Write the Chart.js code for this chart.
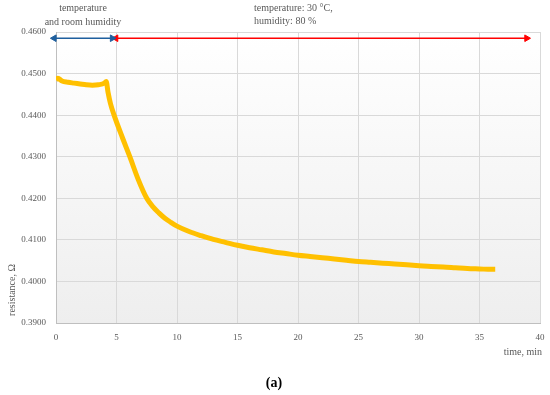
<!DOCTYPE html>
<html>
<head>
<meta charset="utf-8">
<script src="https://cdn.jsdelivr.net/npm/chart.js@4.4.1/dist/chart.umd.min.js"></script>
<style>
  html, body { margin: 0; padding: 0; background: #fff; }
  #wrap { width: 550px; height: 395px; position: relative; }
</style>
</head>
<body>
<div id="wrap"><canvas id="chart" width="550" height="395"></canvas></div>
<script>
// ---- data ----
const timeMin = [0, 0.15, 0.5, 1, 1.5, 2, 2.5, 3, 3.5, 4, 4.15, 4.3, 4.5, 4.8, 5.5, 6.1, 6.8, 7.5, 8, 8.5, 9, 9.5, 10,
  11, 12, 13, 14, 15, 16, 17, 18, 19, 20, 21, 22, 23, 24, 25, 26, 27, 28, 29, 30, 31, 32, 33, 34, 35, 36, 36.3];
const resistance = [0.4484, 0.4489, 0.4482, 0.4479, 0.4477, 0.4475, 0.4473, 0.4472, 0.4473, 0.4477, 0.4481, 0.4455, 0.4428,
  0.4400, 0.4345, 0.4300, 0.4245, 0.4200, 0.4180, 0.4165, 0.4152, 0.4142, 0.4133,
  0.4120, 0.4110, 0.4101, 0.4094, 0.4087, 0.4081, 0.4076, 0.4071, 0.4067, 0.4063, 0.4060, 0.4057, 0.4054, 0.4051,
  0.4048, 0.4046, 0.4044, 0.4042, 0.4040, 0.4038, 0.4036, 0.4035, 0.4033, 0.4031, 0.4030, 0.4029, 0.4029];

// arrows marking the two phases (x in min, y in Ω)
const roomArrowX = [-0.15, 4.65];
const climateArrowX = [4.95, 38.9];
const arrowY = 0.4585;

const xTicks = { min: 0, max: 40, step: 5 };
const yTicks = { min: 0.39, max: 0.46, step: 0.01 };

const TEXT = '#595959';
const FONT = '"Liberation Serif", "DejaVu Serif", serif';

const toPts = (xs, ys) => xs.map((x, i) => ({ x, y: Array.isArray(ys) ? ys[i] : ys }));

// gradient plot background
const plotBg = {
  id: 'plotBg',
  beforeDraw(chart) {
    const { ctx, chartArea: a } = chart;
    const g = ctx.createLinearGradient(0, a.top, 0, a.bottom);
    g.addColorStop(0, '#ffffff');
    g.addColorStop(1, '#eeeeee');
    ctx.save();
    ctx.fillStyle = g;
    ctx.fillRect(a.left, a.top, a.right - a.left, a.bottom - a.top);
    ctx.restore();
  }
};

// free text: captions, axis titles, panel label
const labels = {
  id: 'labels',
  afterDraw(chart) {
    const { ctx, chartArea: a } = chart;
    ctx.save();
    ctx.fillStyle = TEXT;
    ctx.font = '10px ' + FONT;
    ctx.textBaseline = 'middle';

    ctx.textAlign = 'center';
    ctx.fillText('temperature', 83, 8);
    ctx.fillText('and room humidity', 83, 22);

    ctx.textAlign = 'left';
    ctx.fillText('temperature: 30 °C,', 254, 8);
    ctx.fillText('humidity: 80 %', 254, 21);

    ctx.textAlign = 'right';
    ctx.fillText('time, min', 542, a.bottom + 29);

    ctx.save();
    ctx.translate(12, 290);
    ctx.rotate(-Math.PI / 2);
    ctx.textAlign = 'center';
    ctx.fillText('resistance, Ω', 0, 0);
    ctx.restore();

    ctx.fillStyle = '#000';
    ctx.textAlign = 'center';
    ctx.font = 'bold 14px ' + FONT;
    ctx.fillText('(a)', 274, 383);
    ctx.restore();
  }
};

const arrowSet = (xs, color) => ({
  data: toPts(xs, arrowY),
  borderColor: color,
  backgroundColor: color,
  borderWidth: 1.6,
  pointStyle: 'triangle',
  pointRadius: 3.8,
  pointRotation: [-90, 90],
  pointBorderWidth: 1,
  clip: false,
  order: 0
});

new Chart(document.getElementById('chart'), {
  type: 'line',
  data: {
    datasets: [
      {
        data: toPts(timeMin, resistance),
        borderColor: '#FFC000',
        borderWidth: 5,
        pointRadius: 0,
        cubicInterpolationMode: 'monotone',
        order: 1
      },
      arrowSet(roomArrowX, '#1F5F9E'),
      arrowSet(climateArrowX, '#FF0000')
    ]
  },
  options: {
    responsive: false,
    animation: false,
    events: [],
    layout: { padding: { top: 32, right: 10, bottom: 0, left: 0 } },
    plugins: { legend: { display: false }, tooltip: { enabled: false } },
    scales: {
      x: {
        type: 'linear',
        min: xTicks.min, max: xTicks.max,
        afterFit: s => { s.height = 72; s.paddingLeft = 0; s.paddingRight = 0; },
        grid: { color: '#d9d9d9', drawTicks: false },
        border: { color: '#bfbfbf' },
        ticks: { stepSize: xTicks.step, padding: 9, color: TEXT, font: { family: FONT, size: 9 } }
      },
      y: {
        min: yTicks.min, max: yTicks.max,
        afterFit: s => { s.width = 56; },
        grid: { color: '#d9d9d9', drawTicks: false },
        border: { color: '#bfbfbf' },
        ticks: {
          stepSize: yTicks.step, padding: 10, color: TEXT, font: { family: FONT, size: 9 },
          callback: v => v.toFixed(4)
        }
      }
    }
  },
  plugins: [plotBg, labels]
});
</script>
</body>
</html>
